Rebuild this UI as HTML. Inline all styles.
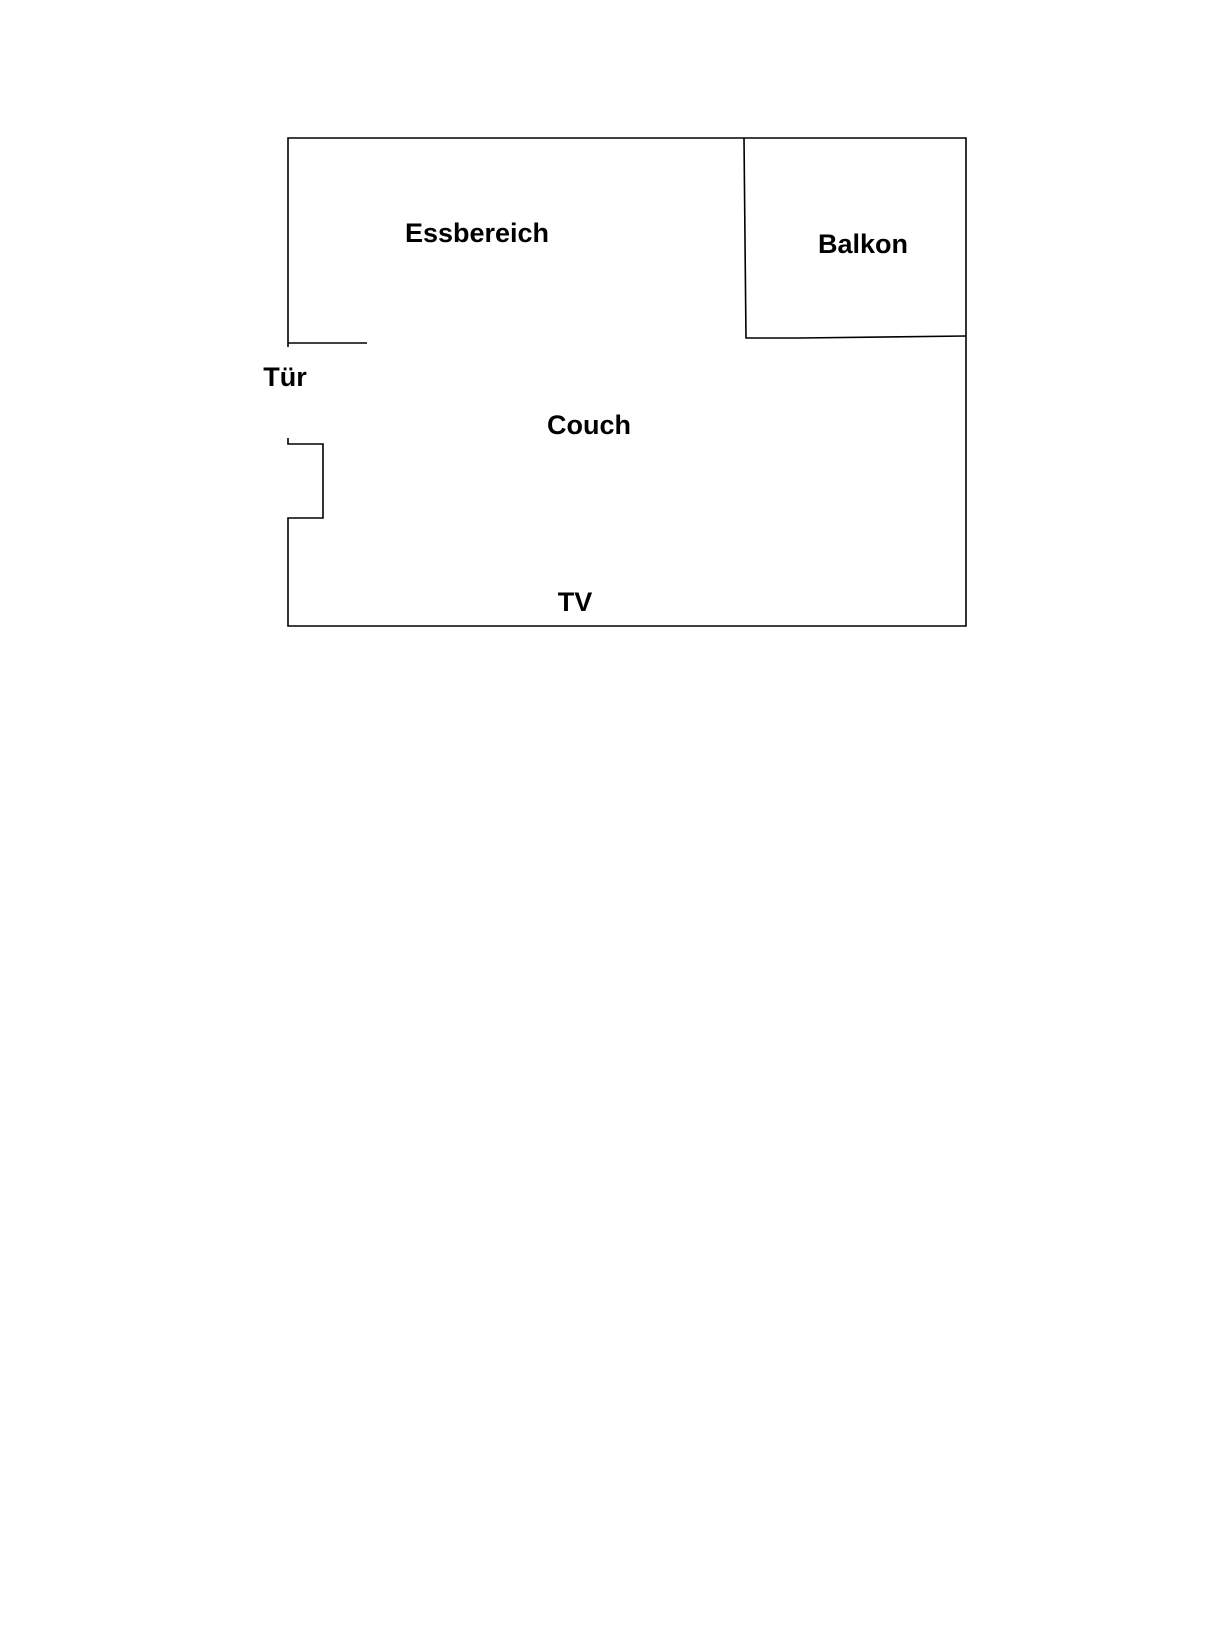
<!DOCTYPE html>
<html><head><meta charset="utf-8"><style>
html,body{margin:0;padding:0;background:#fff;}
svg{display:block}
text{font-family:"Liberation Sans",Arial,sans-serif;font-weight:bold;fill:#000;}
</style></head><body>
<svg width="1224" height="1632" viewBox="0 0 1224 1632" xmlns="http://www.w3.org/2000/svg">
<g stroke="#000" stroke-width="1.6" fill="none">
<polyline points="288,347 288,138 966,138 966,626 288,626 288,518 323,518 323,444 288,444 288,438"/>
<line x1="288" y1="343" x2="367" y2="343"/>
<polyline points="744,138 745,240 746,338 800,338 966,336"/>
</g>
<text x="477" y="242" font-size="27" text-anchor="middle">Essbereich</text>
<text x="863" y="253" font-size="27" text-anchor="middle">Balkon</text>
<text x="285" y="386" font-size="27" text-anchor="middle">Tür</text>
<text x="589" y="434" font-size="27" text-anchor="middle">Couch</text>
<text x="575" y="611" font-size="27" text-anchor="middle">TV</text>
</svg>
</body></html>
